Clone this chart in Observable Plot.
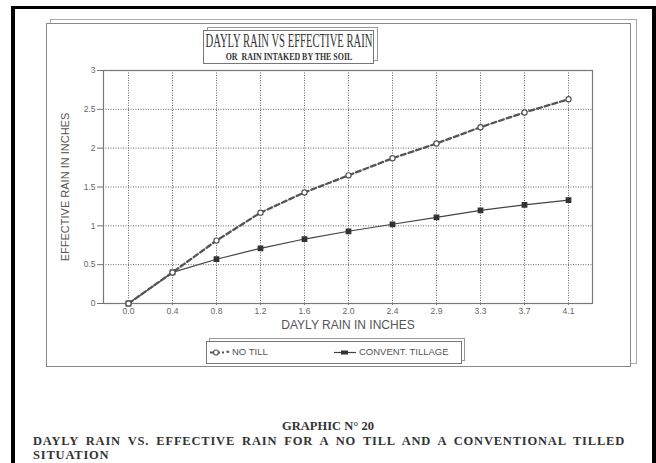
<!DOCTYPE html>
<html>
<head>
<meta charset="utf-8">
<script src="https://cdn.jsdelivr.net/npm/d3@7"></script>
<script src="https://cdn.jsdelivr.net/npm/@observablehq/plot@0.6"></script>
<style>
  html, body { margin: 0; padding: 0; background: #fff; }
  #page { position: relative; width: 656px; height: 463px; overflow: hidden; background: #fff; }
  .abs { position: absolute; box-sizing: border-box; }
  .serif { font-family: "Liberation Serif", "DejaVu Serif", serif; }
  .sans { font-family: "Liberation Sans Narrow", "Liberation Sans", Arial, sans-serif; }
  .squeeze { position: absolute; left: 50%; top: 0; white-space: pre; }
</style>
</head>
<body>
<div id="page">
  <!-- black scan borders -->
  <div class="abs" style="left:11px;top:6px;width:645px;height:3px;background:#000"></div>
  <div class="abs" style="left:11px;top:6px;width:4px;height:457px;background:#000"></div>
  <div class="abs" style="left:652px;top:6px;width:4px;height:457px;background:#000"></div>

  <!-- chart 3D frame -->
  <div class="abs" style="left:50px;top:19px;width:587px;height:345px;border:1px solid #aaa"></div>
  <div class="abs" style="left:46px;top:23px;width:585px;height:344px;border:1.5px solid #888;background:#fff"></div>

  <div id="chart" class="abs" style="left:0;top:0"></div>

  <!-- title box -->
  <div class="abs" style="left:207px;top:27px;width:171px;height:34px;border:1px solid #999;background:#fff"></div>
  <div class="abs" style="left:203px;top:30px;width:171px;height:34px;border:1.3px solid #777;background:#fff"></div>
  <div class="abs serif" id="t1" style="left:203px;top:31px;width:171px;height:20px;color:#333;line-height:20px;font-size:19px"></div>
  <div class="abs serif" id="t2" style="left:203px;top:50px;width:171px;height:12px;color:#333;line-height:12px;font-size:11px;font-weight:bold"></div>

  <!-- legend box -->
  <div class="abs" style="left:209px;top:338px;width:256px;height:23px;border:1px solid #999;background:#fff"></div>
  <div class="abs" style="left:206px;top:341px;width:256px;height:23px;border:1.3px solid #777;background:#fff"></div>
  <div id="legend" class="abs sans" style="left:206px;top:341px;width:256px;height:23px;font-size:9.5px;color:#555"></div>

  <!-- caption -->
  <div class="abs serif" id="c1" style="left:0;top:419px;width:656px;text-align:center;font-weight:bold;font-size:12.5px;color:#333;line-height:14px"></div>
  <div class="abs serif" id="c2" style="left:33px;top:434px;width:592px;font-weight:bold;font-size:12.5px;letter-spacing:0.8px;color:#333;text-align:justify;text-align-last:justify;white-space:nowrap;line-height:14px"></div>
  <div class="abs serif" id="c3" style="left:33px;top:448px;width:592px;font-weight:bold;font-size:12.5px;letter-spacing:0.8px;color:#333;line-height:14px"></div>
</div>
<script>
// ---- data ----
const xLabels = ["0.0", "0.4", "0.8", "1.2", "1.6", "2.0", "2.4", "2.9", "3.3", "3.7", "4.1"];
const noTill = [0, 0.40, 0.81, 1.17, 1.43, 1.65, 1.87, 2.06, 2.27, 2.46, 2.63];
const conventional = [0, 0.40, 0.57, 0.71, 0.83, 0.93, 1.02, 1.11, 1.20, 1.27, 1.33];
const yTicks = [0, 0.5, 1, 1.5, 2, 2.5, 3];
const seriesNames = ["NO TILL", "CONVENT. TILLAGE"];
const titleText = "DAYLY RAIN VS EFFECTIVE RAIN";
const subtitleText = "OR  RAIN INTAKED BY THE SOIL";
const xTitle = "DAYLY RAIN IN INCHES";
const yTitle = "EFFECTIVE RAIN IN INCHES";
const captionTitle = "GRAPHIC N° 20";
const captionLine1 = "DAYLY RAIN VS. EFFECTIVE RAIN FOR A NO TILL AND A CONVENTIONAL TILLED";
const captionLine2 = "SITUATION";

const rowsNT = xLabels.map((x, i) => ({x, y: noTill[i]}));
const rowsCT = xLabels.map((x, i) => ({x, y: conventional[i]}));

const sans = "Liberation Sans Narrow, Liberation Sans, Arial, sans-serif";

const chart = Plot.plot({
  width: 656,
  height: 463,
  marginLeft: 103,
  marginRight: 64,
  marginTop: 70,
  marginBottom: 160,
  style: {background: "transparent", fontFamily: sans, color: "#555"},
  x: {type: "point", domain: xLabels, padding: 0.5, label: null},
  y: {domain: [0, 3], label: null},
  marks: [
    Plot.gridX(xLabels, {stroke: "#555", strokeOpacity: 0.9, strokeDasharray: "1,1.5", strokeWidth: 1}),
    Plot.gridY(yTicks, {stroke: "#555", strokeOpacity: 0.9, strokeDasharray: "1,1.5", strokeWidth: 1}),
    Plot.frame({stroke: "#777", strokeWidth: 1.2}),
    Plot.axisY(yTicks, {tickSize: 6, tickPadding: 2, fontSize: 8.5, fill: "#666", stroke: "#777", label: null, tickFormat: d => String(d)}),
    Plot.axisX(xLabels, {tickSize: 2, tickPadding: 2, fontSize: 8.5, fill: "#666", stroke: "#777", label: null}),
    Plot.text([yTitle], {frameAnchor: "left", dx: -38, rotate: -90, textAnchor: "middle", fontSize: 11, fill: "#555", text: d => d}),
    Plot.text([xTitle], {frameAnchor: "bottom", dy: 22, lineAnchor: "middle", fontSize: 12, fill: "#555", text: d => d}),
    Plot.line(rowsCT, {x: "x", y: "y", stroke: "#444", strokeWidth: 1.2}),
    Plot.line(rowsNT, {x: "x", y: "y", stroke: "#555", strokeWidth: 2.3, strokeDasharray: "5,3"}),
    Plot.dot(rowsCT, {x: "x", y: "y", symbol: "square", r: 2.4, fill: "#333", stroke: "#333"}),
    Plot.dot(rowsNT, {x: "x", y: "y", symbol: "circle", r: 2.6, fill: "#fff", stroke: "#555", strokeWidth: 1.2})
  ]
});
document.getElementById("chart").appendChild(chart);

// titles & captions
document.getElementById("t1").innerHTML =
  `<span class="squeeze" style="transform:translateX(-50%) scaleX(0.56)">${titleText}</span>`;
document.getElementById("t2").innerHTML =
  `<span class="squeeze" style="transform:translateX(-50%) scaleX(0.72)">${subtitleText}</span>`;
document.getElementById("c1").textContent = captionTitle;
document.getElementById("c2").textContent = captionLine1;
document.getElementById("c3").textContent = captionLine2;

// legend
const lg = document.getElementById("legend");
lg.innerHTML = `
  <svg width="256" height="23" style="position:absolute;left:0;top:0">
    <line x1="4" x2="18" y1="11.5" y2="11.5" stroke="#555" stroke-width="2" stroke-dasharray="4,2"/>
    <circle cx="10" cy="11.5" r="2.5" fill="#fff" stroke="#555" stroke-width="1.2"/>
    <line x1="128" x2="150" y1="11.5" y2="11.5" stroke="#444" stroke-width="1.2"/>
    <rect x="135" y="9.5" width="7" height="4" fill="#333"/>
  </svg>
  <span style="position:absolute;left:20px;top:5px">• ${seriesNames[0]}</span>
  <span style="position:absolute;left:153px;top:5px">${seriesNames[1]}</span>`;
</script>
</body>
</html>
